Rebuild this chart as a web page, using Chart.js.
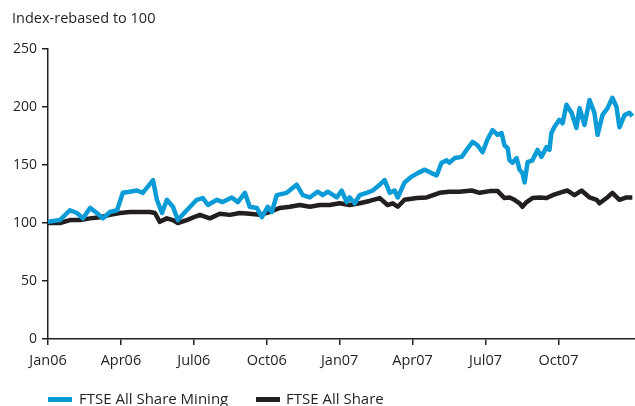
<!DOCTYPE html>
<html>
<head>
<meta charset="utf-8">
<script src="https://cdn.jsdelivr.net/npm/chart.js@4.4.1/dist/chart.umd.min.js"></script>
<style>
  body { margin: 0; background: #fff; font-family: "Open Sans", sans-serif; color: #231f20; }
  #wrap { position: relative; width: 635px; height: 406px; overflow: hidden; }
  #chart { position: absolute; left: 0; top: 0; }
  .title { position: absolute; left: 12px; top: 8px; font-size: 14.5px; }
  .legtext { position: absolute; top: 388px; font-size: 15px; white-space: nowrap; }
  .swatch { position: absolute; top: 397px; width: 24px; height: 5px; }
</style>
</head>
<body>
<div id="wrap">
  <canvas id="chart" width="635" height="406"></canvas>
  <div class="title">Index-rebased to 100</div>
  <div class="swatch" style="left:48px;background:#0b9bd7"></div>
  <div class="legtext" style="left:79px">FTSE All Share Mining</div>
  <div class="swatch" style="left:256px;background:#231f20"></div>
  <div class="legtext" style="left:286px">FTSE All Share</div>
</div>
<script>
// months since Jan 2006
const miningMonths = [0, 0.49, 0.9, 1.19, 1.44, 1.73, 2.01, 2.26, 2.55, 2.84, 3.08, 3.37, 3.66, 3.9, 4.32, 4.48, 4.69, 4.89, 5.14, 5.34,
  5.71, 6.12, 6.37, 6.58, 6.95, 7.19, 7.56, 7.81, 8.1, 8.3, 8.59, 8.8, 9.04, 9.21, 9.41, 9.82, 10.23, 10.48, 10.77, 11.1,
  11.3, 11.51, 11.88, 12.08, 12.29, 12.41, 12.62, 12.82, 13.11, 13.36, 13.65, 13.85, 14.06, 14.26, 14.39, 14.67, 14.96, 15.21, 15.5, 15.78,
  15.99, 16.19, 16.4, 16.52, 16.73, 17.02, 17.22, 17.47, 17.67, 17.88, 18.08, 18.29, 18.5, 18.66, 18.78, 18.91, 18.99, 19.11, 19.28, 19.4,
  19.52, 19.61, 19.73, 19.93, 20.14, 20.3, 20.51, 20.63, 20.71, 20.84, 21.04, 21.17, 21.33, 21.54, 21.74, 21.87, 22.07, 22.28, 22.48, 22.61,
  22.81, 23.02, 23.22, 23.39, 23.51, 23.72, 23.92, 24.04];
const miningValues = [101, 102.5, 111, 108.6, 104, 113, 108.6, 104, 109.5, 111, 126, 127, 128, 126, 137, 120, 108.6, 120, 114, 102.5,
  111, 120, 121.5, 115.5, 120, 118, 122, 118, 126, 114, 113, 105, 114, 109.5, 124, 126, 133, 124, 122, 127,
  124, 127, 122, 128, 118, 122, 117, 124, 126, 128, 133, 137, 126, 128, 122, 135, 140, 143, 146, 143,
  141, 152, 154, 152, 156, 157, 163, 170, 167, 161, 172, 180, 176, 177.5, 167, 164.5, 154, 152, 156, 146,
  143, 135, 152.5, 154, 163, 157, 165.5, 163, 177.5, 183, 189, 186, 202, 195, 182, 199, 184.5, 206, 195, 176,
  193, 199, 208, 200, 182.5, 193, 195, 192];

const allShareMonths = [0, 0.49, 0.9, 1.32, 1.73, 2.14, 2.55, 2.96, 3.37, 3.78, 4.19, 4.4, 4.6, 4.89, 5.14, 5.34, 5.71, 6.12, 6.25, 6.66,
  7.07, 7.48, 7.89, 8.3, 8.71, 9.12, 9.54, 9.95, 10.36, 10.77, 11.18, 11.59, 12.0, 12.41, 12.82, 13.23, 13.65, 13.97, 14.18, 14.39,
  14.67, 15.17, 15.58, 16.11, 16.52, 16.93, 17.43, 17.76, 18.17, 18.5, 18.78, 18.99, 19.19, 19.4, 19.52, 19.69, 19.93, 20.22, 20.51, 20.76,
  21.04, 21.37, 21.66, 21.95, 22.28, 22.57, 22.69, 22.98, 23.22, 23.51, 23.8, 24.04];
const allShareValues = [100, 100, 102.5, 102.5, 104, 105, 107, 108.6, 109.5, 109.5, 109.5, 108.6, 101, 104, 102.5, 100, 102.5, 106, 107, 104,
  108, 107, 108.6, 108, 107, 109.5, 113, 114, 115.5, 114, 115.5, 115.5, 117, 115.5, 117, 119, 121.5, 115.5, 117, 114,
  120, 121.5, 122, 126, 127, 127, 128, 126, 127.5, 127.5, 121.5, 122, 120, 117, 114, 118, 121.5, 122, 121.5, 124,
  126, 128, 124, 128, 122, 120, 117, 121.5, 126, 120, 122, 122];

const tickMonths = [0, 3, 6, 9, 12, 15, 18, 21];
const tickLabels = ['Jan06', 'Apr06', 'Jul06', 'Oct06', 'Jan07', 'Apr07', 'Jul07', 'Oct07'];

const toPoints = (xs, ys) => xs.map((x, i) => ({ x: x, y: ys[i] }));

const axisColor = '#231f20';

new Chart(document.getElementById('chart'), {
  type: 'line',
  data: {
    datasets: [
      {
        label: 'FTSE All Share Mining',
        data: toPoints(miningMonths, miningValues),
        borderColor: '#0b9bd7',
        borderWidth: 4.5,
        pointRadius: 0,
        tension: 0,
        borderJoinStyle: 'round'
      },
      {
        label: 'FTSE All Share',
        data: toPoints(allShareMonths, allShareValues),
        borderColor: '#231f20',
        borderWidth: 4.5,
        pointRadius: 0,
        tension: 0,
        borderJoinStyle: 'round'
      }
    ]
  },
  options: {
    responsive: false,
    animation: false,
    layout: { padding: { top: 49, right: 0, bottom: 0, left: 0 } },
    plugins: { legend: { display: false }, title: { display: false }, tooltip: { enabled: false } },
    scales: {
      x: {
        type: 'linear',
        min: 0,
        max: 24.15,
        afterBuildTicks: scale => { scale.ticks = tickMonths.map(v => ({ value: v })); },
        afterFit: scale => { scale.height = 67; },
        grid: { drawOnChartArea: false, drawTicks: true, tickLength: 6, color: axisColor, lineWidth: 1.5 },
        border: { display: true, color: axisColor, width: 1.5 },
        ticks: {
          color: axisColor,
          font: { family: '"Open Sans", sans-serif', size: 14.5 },
          padding: 7,
          maxRotation: 0,
          autoSkip: false,
          callback: v => tickLabels[tickMonths.indexOf(v)]
        }
      },
      y: {
        min: 0,
        max: 250,
        afterFit: scale => { scale.width = 48; },
        grid: { drawOnChartArea: false, drawTicks: true, tickLength: 6, color: axisColor, lineWidth: 1.5 },
        border: { display: true, color: axisColor, width: 1.5 },
        ticks: { stepSize: 50, color: axisColor, font: { family: '"Open Sans", sans-serif', size: 14 }, padding: 5 }
      }
    }
  }
});
</script>
</body>
</html>
